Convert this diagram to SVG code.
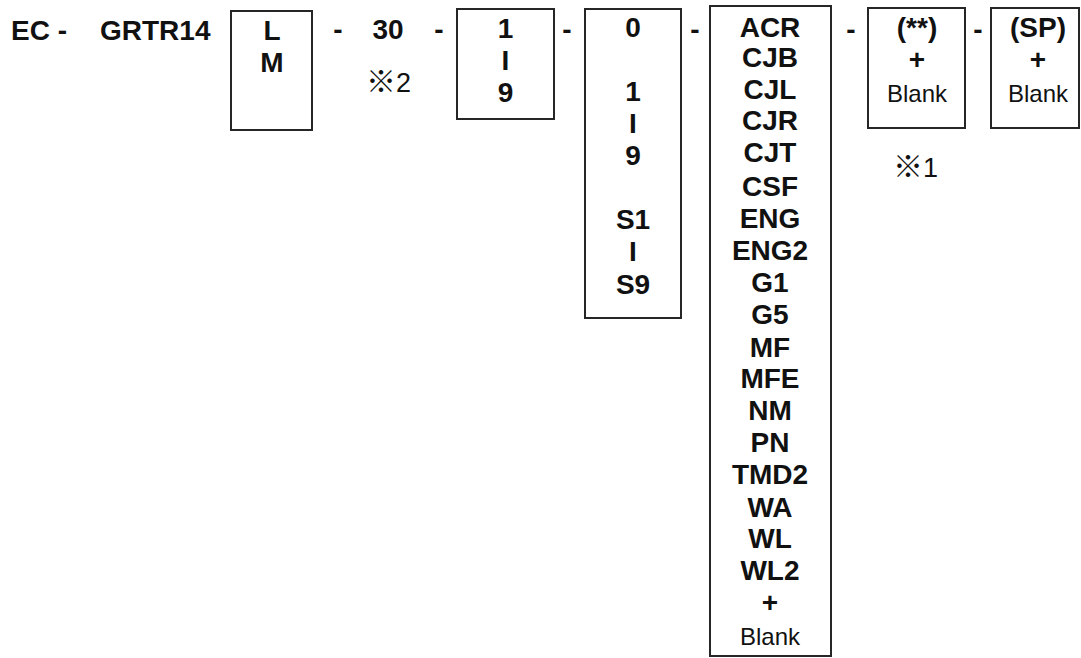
<svg xmlns="http://www.w3.org/2000/svg" width="1081" height="658" viewBox="0 0 1081 658">
<style>
  .b{font-family:"Liberation Sans",Arial,sans-serif;font-weight:bold;font-size:28px;fill:#111;}
  .r{font-family:"Liberation Sans",Arial,sans-serif;font-size:24px;fill:#111;}
  .n{font-family:"Liberation Sans",Arial,sans-serif;font-size:27px;fill:#111;}
  .k{font-family:"Noto Sans CJK JP","Noto Sans CJK SC",sans-serif;font-size:30px;}
  .c{text-anchor:middle;}
  .box{fill:none;stroke:#262626;stroke-width:2;}
</style>
<rect width="1081" height="658" fill="#ffffff"/>

<g id="prefix">
  <text class="b" x="11" y="40">EC -</text>
  <text class="b" x="100" y="40">GRTR14</text>
</g>

<g id="node-LM">
  <rect class="box" x="231" y="11" width="81" height="119"/>
  <text class="b c" x="272" y="40">L</text>
  <text class="b c" x="272" y="72">M</text>
</g>

<g id="node-30">
  <text class="b c" x="388" y="39">30</text>
  <text class="n" x="366" y="92"><tspan class="k">※</tspan>2</text>
</g>

<g id="node-1-9">
  <rect class="box" x="457" y="9" width="97" height="110"/>
  <text class="b c" x="505.5" y="38">1</text>
  <text class="b c" x="505.5" y="70">I</text>
  <text class="b c" x="505.5" y="102">9</text>
</g>

<g id="node-0-S9">
  <rect class="box" x="585" y="9" width="96" height="309"/>
  <text class="b c" x="633" y="37">0</text>
  <text class="b c" x="633" y="101">1</text>
  <text class="b c" x="633" y="133">I</text>
  <text class="b c" x="633" y="165">9</text>
  <text class="b c" x="633" y="229">S1</text>
  <text class="b c" x="633" y="261">I</text>
  <text class="b c" x="633" y="294">S9</text>
</g>

<g id="node-options">
  <rect class="box" x="710" y="6" width="121" height="650"/>
  <text class="b c" x="770" y="37">ACR</text>
  <text class="b c" x="770" y="67">CJB</text>
  <text class="b c" x="770" y="99">CJL</text>
  <text class="b c" x="770" y="130">CJR</text>
  <text class="b c" x="770" y="162">CJT</text>
  <text class="b c" x="770" y="196">CSF</text>
  <text class="b c" x="770" y="228">ENG</text>
  <text class="b c" x="770" y="260">ENG2</text>
  <text class="b c" x="770" y="292">G1</text>
  <text class="b c" x="770" y="324">G5</text>
  <text class="b c" x="770" y="357">MF</text>
  <text class="b c" x="770" y="388">MFE</text>
  <text class="b c" x="770" y="420">NM</text>
  <text class="b c" x="770" y="452">PN</text>
  <text class="b c" x="770" y="484">TMD2</text>
  <text class="b c" x="770" y="517">WA</text>
  <text class="b c" x="770" y="548">WL</text>
  <text class="b c" x="770" y="580">WL2</text>
  <text class="b c" x="770" y="612">+</text>
  <text class="r c" x="770" y="645">Blank</text>
</g>

<g id="node-star">
  <rect class="box" x="868" y="8" width="97" height="120"/>
  <text class="b c" x="917" y="37">(**)</text>
  <text class="b c" x="917" y="69">+</text>
  <text class="r c" x="917" y="102">Blank</text>
  <text class="n" x="893" y="177"><tspan class="k">※</tspan>1</text>
</g>

<g id="node-SP">
  <rect class="box" x="991" y="8" width="88" height="120"/>
  <text class="b c" x="1038" y="37">(SP)</text>
  <text class="b c" x="1038" y="69">+</text>
  <text class="r c" x="1038" y="102">Blank</text>
</g>

<g id="connectors">
  <text class="b c" x="338" y="39">-</text>
  <text class="b c" x="439" y="39">-</text>
  <text class="b c" x="567" y="39">-</text>
  <text class="b c" x="695" y="39">-</text>
  <text class="b c" x="851" y="39">-</text>
  <text class="b c" x="978" y="39">-</text>
</g>
</svg>
